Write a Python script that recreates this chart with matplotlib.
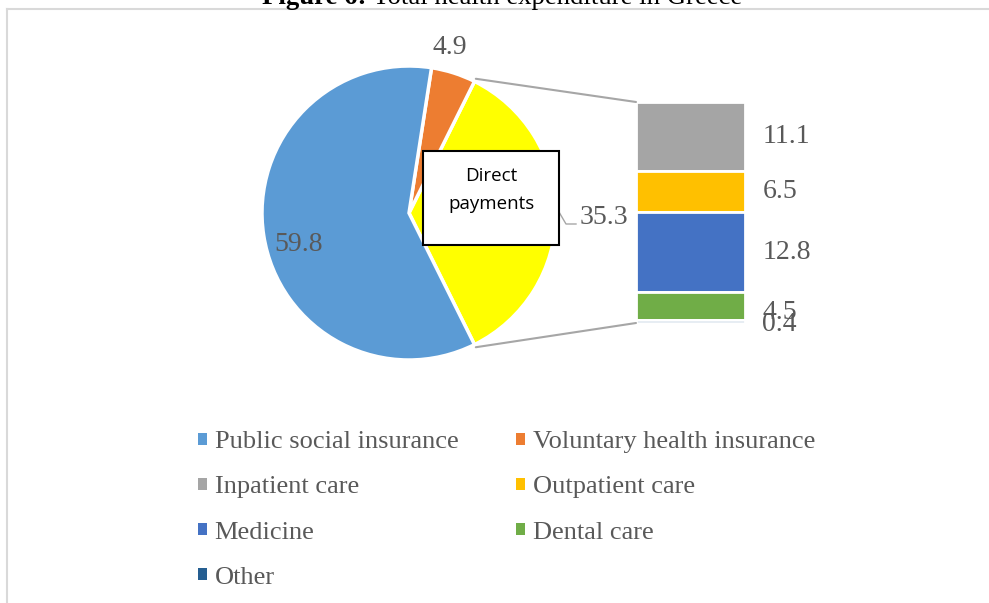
import numpy as np
import matplotlib
matplotlib.use("Agg")
import matplotlib.pyplot as plt
from matplotlib.patches import Patch, Rectangle, ConnectionPatch
from matplotlib.lines import Line2D

# datos
pie_labels = ["Direct payments", "Voluntary health insurance", "Public social insurance"]
pie_values = [35.3, 4.9, 59.8]
pie_colors = ["#FFFF00", "#ED7D31", "#5B9BD5"]

bar_labels = ["Inpatient care", "Outpatient care", "Medicine", "Dental care", "Other"]
bar_values = [11.1, 6.5, 12.8, 4.5, 0.4]
bar_colors = ["#A5A5A5", "#FFC000", "#4472C4", "#70AD47", "#255E91"]

W, H = 989, 603
gris = "#595959"
plt.rcParams["font.family"] = ["Liberation Serif", "DejaVu Serif"]

fig = plt.figure(figsize=(W / 100, H / 100), dpi=100)
ax = fig.add_axes([0, 0, 1, 1])

# pie (coordenadas en pixeles, y hacia arriba)
cx, cy, r = 409, H - 213, 147
ang0 = -pie_values[0] / 100 * 360 / 2
wedges, _ = ax.pie(pie_values, colors=pie_colors, startangle=ang0, counterclock=True,
                   center=(cx, cy), radius=r, frame=True,
                   wedgeprops=dict(edgecolor="white", linewidth=2.5))
ax.set_xlim(0, W)
ax.set_ylim(0, H)
ax.set_aspect("equal")
ax.axis("off")

def punto(theta, f):
    t = np.deg2rad(theta)
    return cx + f * r * np.cos(t), cy + f * r * np.sin(t)

# etiquetas del pie
w_pub = wedges[2]
x, y = punto((w_pub.theta1 + w_pub.theta2) / 2, 0.76)
ax.text(x, y - 14, f"{pie_values[2]}", fontsize=20, color=gris, ha="center", va="center")
x, y = punto(76, 1.16)
ax.text(x, y, f"{pie_values[1]}", fontsize=20, color=gris, ha="center", va="center")
ax.text(580, H - 217, f"{pie_values[0]}", fontsize=20, color=gris, ha="left", va="center")
ax.plot([559, 566, 576], [H - 212, H - 224, H - 224], color="#A6A6A6", lw=1)

# caja "Direct payments"
ax.add_patch(Rectangle((423, H - 245), 136, 94, facecolor="white", edgecolor="black", lw=1.5, zorder=5))
ax.text(491, H - 190, "Direct\npayments", fontsize=13.5, ha="center", va="center",
        family=["Open Sans", "DejaVu Sans"], linespacing=1.65, zorder=6)

# barra apilada
axb = fig.add_axes([636 / W, (H - 323) / H, 109 / W, 221 / H])
total = sum(bar_values)
bottoms = total - np.cumsum(bar_values)
axb.bar([0] * len(bar_values), bar_values, bottom=bottoms, width=1, color=bar_colors,
        edgecolor="white", linewidth=2)
axb.set_xlim(-0.5, 0.5)
axb.set_ylim(0, total)
axb.axis("off")
for v, b in zip(bar_values, bottoms):
    yc = b + v / 2
    if v < 1:
        yc = b - 0.3
    elif v < 5:
        yc = b + v / 2 - 1.0
    axb.text(1.16, yc, f"{v}", transform=axb.get_yaxis_transform(), fontsize=20,
             color=gris, ha="left", va="center", clip_on=False)

# lineas de conexion
for theta, yb in [(wedges[0].theta2, total), (wedges[0].theta1, 0)]:
    con = ConnectionPatch(xyA=punto(theta, 1.02), coordsA=ax.transData,
                          xyB=(-0.5, yb), coordsB=axb.transData, color="#A6A6A6", lw=1.5)
    fig.add_artist(con)

# leyenda
orden = [("Public social insurance", pie_colors[2]), ("Inpatient care", bar_colors[0]),
         ("Medicine", bar_colors[2]), ("Other", bar_colors[4]),
         ("Voluntary health insurance", pie_colors[1]), ("Outpatient care", bar_colors[1]),
         ("Dental care", bar_colors[3])]
handles = [Patch(facecolor=c, edgecolor="none", label=l) for l, c in orden]
fig.legend(handles=handles, ncol=2, loc="upper left", bbox_to_anchor=(185 / W, 1 - 418 / H),
           frameon=False, fontsize=19, labelcolor=gris, handlelength=0.32, handleheight=0.32,
           handletextpad=0.3, labelspacing=0.88, columnspacing=2.2, borderpad=0)

# marco y titulo cortado
fig.add_artist(Line2D([6.5 / W, 1], [1 - 8.5 / H] * 2, color="#D9D9D9", lw=1.5))
fig.add_artist(Line2D([6.5 / W] * 2, [0, 1 - 8.5 / H], color="#D9D9D9", lw=1.5))
fig.text(367 / W, 1 - 4 / H, "Figure 6:", fontsize=19.3, weight="bold", ha="right", va="baseline")
fig.text(373 / W, 1 - 4 / H, "Total health expenditure in Greece", fontsize=19.3, ha="left", va="baseline")

fig.savefig("out.png", dpi=100)
